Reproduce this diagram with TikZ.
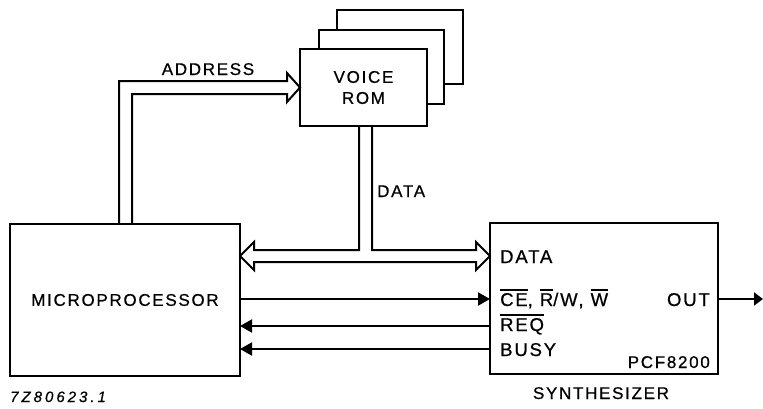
\documentclass[tikz,border=0pt]{standalone}
\usepackage{fontspec}
\setmainfont{Liberation Sans}[LetterSpace=10,FakeBold=0.6]
\newfontfamily\codefont{Liberation Sans}[LetterSpace=20,FakeBold=0.6]
\usetikzlibrary{arrows.meta,calc}
\newcommand\ovl[1]{\leavevmode\setbox0\hbox{#1}\rlap{\raisebox{15.5pt}{\rule{\wd0}{1.5pt}}}\box0}
\begin{document}
\begin{tikzpicture}[x=1pt,y=-1pt,
  box/.style={draw, line width=2.6pt, fill=white, inner sep=0pt, outer sep=0pt},
  lbl/.style={font=\fontsize{17}{21}\selectfont, inner sep=0pt},
  port/.style={font=\fontsize{18.5}{22}\selectfont, inner sep=0pt, anchor=base west},
  bus/.style={line width=2pt, line join=miter},
  sig/.style={line width=2pt, -{Triangle[length=12pt,width=13pt]}}]
\useasboundingbox (0,0) rectangle (763,408);
% voice ROM stack
\node[box, minimum width=126pt, minimum height=74pt] (rom3) at (400,47) {};
\node[box, minimum width=125pt, minimum height=74pt] (rom2) at (381.5,67) {};
\node[box, lbl, align=center, minimum width=127pt, minimum height=77pt] (rom) at (363.5,87.5) {VOICE\\ROM};
% main blocks
\node[box, lbl, minimum width=230pt, minimum height=152pt] (mp) at (125,300) {MICROPROCESSOR};
\node[box, minimum width=228pt, minimum height=151pt] (syn) at (604,298.5) {};
% synthesizer texts
\node[port] (pdata) at (500,263) {DATA};
\node[port] (pce) at (500,306) {\ovl{CE}, \ovl{R}/W, \ovl{W}};
\node[port] (preq) at (500,331) {\ovl{REQ}};
\node[port] (pbusy) at (500,356) {BUSY};
\node[port, anchor=base east] (pout) at (710,306) {OUT};
\node[lbl, anchor=base east] (ppcf) at (710,368) {PCF8200};
\node[lbl, anchor=base] (psyn) at (601,399) {SYNTHESIZER};
% labels
\node[lbl, anchor=base] (laddr) at (208,75) {ADDRESS};
\node[lbl, anchor=base west] (ldata) at (377,197) {DATA};
\node[anchor=base west, inner sep=0pt, font=\codefont\itshape\fontsize{15}{17}\selectfont] (code) at (10,402) {7Z80623.1};
% address bus
\coordinate (a1) at ($(mp.north west)+(109,0)$);
\coordinate (a2) at ($(mp.north west)+(122,0)$);
\draw[bus] (a1) |- ($(rom.west)+(-13,-6.5)$) -- ++(0,-8) -- (rom.west) -- ++(-13,14.5) -- ++(0,-8) -| (a2);
% data bus
\coordinate (d1) at ($(rom.south)+(-4.5,0)$);
\coordinate (d2) at ($(rom.south)+(8.5,0)$);
\coordinate (dl) at ($(mp.north east)+(0,32)$);
\coordinate (dr) at (syn.west |- dl);
\draw[bus] (d1) |- ($(dl)+(14,-6)$) -- ++(0,-8) -- (dl) -- ++(14,14) -- ++(0,-8)
  -- ($(dr)+(-14,6)$) -- ++(0,8) -- (dr) -- ++(-14,-14) -- ++(0,8) -| (d2);
% control lines
\coordinate (yce) at ($(mp.north east)+(0,75)$);
\coordinate (yreq) at ($(mp.north east)+(0,102)$);
\coordinate (ybusy) at ($(mp.north east)+(0,125)$);
\draw[sig] (yce) -- (syn.west |- yce);
\draw[sig] (syn.west |- yreq) -- (yreq);
\draw[sig] (syn.west |- ybusy) -- (ybusy);
\coordinate (outend) at ($(syn.east |- yce)+(45,0)$);
\draw[line width=2pt, -{Triangle[length=9pt,width=13pt]}] (syn.east |- yce) -- (outend);
\end{tikzpicture}
\end{document}
